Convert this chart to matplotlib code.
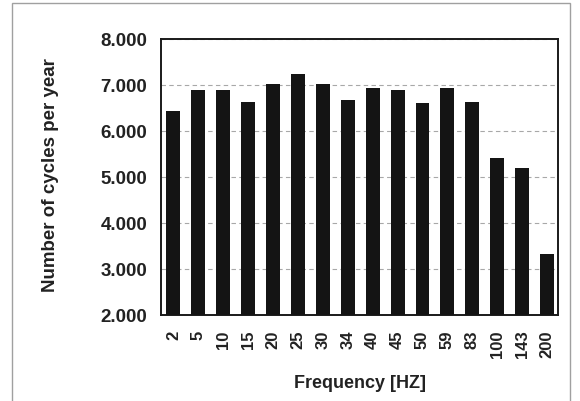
import matplotlib.pyplot as plt
from matplotlib.patches import Rectangle
from matplotlib.ticker import FuncFormatter

# values
frequencies = ["2", "5", "10", "15", "20", "25", "30", "34", "40",
               "45", "50", "59", "83", "100", "143", "200"]
cycles = [6.43, 6.89, 6.89, 6.62, 7.02, 7.24, 7.02, 6.67, 6.93,
          6.89, 6.60, 6.93, 6.62, 5.41, 5.19, 3.33]
y_ticks = [2, 3, 4, 5, 6, 7, 8]

plt.rcParams['font.family'] = ['Liberation Sans', 'DejaVu Sans']

W, H = 580, 401
fig = plt.figure(figsize=(W / 100, H / 100), dpi=100)
fig.patch.set_facecolor('white')

# plot area in pixels: left 161, right 558, top 39, bottom 315
ax = fig.add_axes([161 / W, 1 - 315 / H, (558 - 161) / W, (315 - 39) / H])

x = range(len(frequencies))
ax.bar(x, cycles, width=0.56, color='#141414', zorder=3)

ax.set_ylim(2, 8)
ax.set_xlim(-0.5, len(frequencies) - 0.56)
ax.set_yticks(y_ticks)
ax.yaxis.set_major_formatter(FuncFormatter(lambda v, p: f"{v:.3f}"))
ax.set_xticks(list(x))
ax.set_xticklabels(frequencies, rotation=90, fontsize=12, fontweight='bold')
for lbl in ax.get_yticklabels():
    lbl.set_fontsize(13.5)
    lbl.set_fontweight('bold')
ax.tick_params(axis='both', length=0, colors='#222222')
ax.tick_params(axis='y', pad=10)
ax.tick_params(axis='x', pad=11)

ax.yaxis.grid(True, linestyle=(0, (4, 3)), color='#a8a8a8', linewidth=0.8, zorder=0)
for s in ax.spines.values():
    s.set_linewidth(1.4)
    s.set_color('#1a1a1a')

ax.set_ylabel("Number of cycles per year", fontsize=13.5, fontweight='bold',
              color='#222222')
ax.yaxis.set_label_coords(-0.258, 0.507)
ax.set_xlabel("Frequency [HZ]", fontsize=13, fontweight='bold',
              labelpad=12, color='#222222')

# faint outer frame of the scanned figure
fig.patches.append(Rectangle((12 / W, -0.05), (570 - 12) / W, 1 - 3 / H + 0.05,
                             transform=fig.transFigure, fill=False,
                             edgecolor='#a0a0a0', linewidth=1.0))

fig.savefig("out.png", dpi=100)
